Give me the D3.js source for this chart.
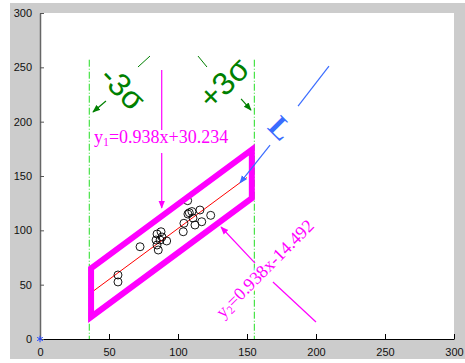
<!DOCTYPE html>
<html>
<head>
<meta charset="utf-8">
<script src="https://cdn.jsdelivr.net/npm/d3@7"></script>
<style>
  body { margin: 0; background: #fff; }
  svg { display: block; }
</style>
</head>
<body>
<div id="chart"></div>
<script>
// tick values
var xTicks = [0, 50, 100, 150, 200, 250, 300];
var yTicks = [0, 50, 100, 150, 200, 250, 300];

// sample points
var ptsX = [56.5, 56.5, 72.5, 84.8, 87.7, 84.1, 87.0, 84.8, 85.7, 91.8, 88.4, 103.8, 104.3, 108.2, 110.1, 107.2, 115.9, 112.3, 117.2, 123.7, 107.0, 110.9];
var ptsY = [58.9, 52.5, 84.9, 96.6, 98.7, 91.1, 91.1, 86.5, 81.9, 90.2, 93.9, 98.7, 106.5, 116.2, 117.3, 115.0, 118.7, 104.9, 107.9, 113.8, 127.3, 111.3];

// fit and bounds
var slope = 0.938;
var upperB = 30.234;
var lowerB = -14.492;
var fitB = 7.871;
var fitRange = [39, 150];
var bandX = [37, 153.5];
var sigmaX = [35.7, 155.3];
var sigmaTop = 257;

function makeChart() {
  var svgWidth = 465;
  var svgHeight = 363;

  var svg = d3.select("#chart")
    .append("svg")
    .attr("width", svgWidth)
    .attr("height", svgHeight);

  var defs = svg.append("defs");
  function arrowHead(id, color) {
    defs.append("marker")
      .attr("id", id)
      .attr("viewBox", "0 0 10 10")
      .attr("refX", 9)
      .attr("refY", 5)
      .attr("markerWidth", 8)
      .attr("markerHeight", 8)
      .attr("markerUnits", "userSpaceOnUse")
      .attr("orient", "auto")
      .append("path")
      .attr("d", "M0,1 L10,5 L0,9 Z")
      .attr("fill", color);
  }
  arrowHead("arG", "#008000");
  arrowHead("arM", "#ff00ff");
  arrowHead("arB", "#3a6cff");

  // grey figure frame
  svg.append("rect")
    .attr("x", 10).attr("y", 3)
    .attr("width", 455).attr("height", 356)
    .attr("fill", "#cccccc");

  var x = d3.scaleLinear().domain([0, 300]).range([40, 454]);
  var y = d3.scaleLinear().domain([0, 300]).range([339, 13]);

  svg.append("rect")
    .attr("x", x(0)).attr("y", y(300))
    .attr("width", x(300) - x(0)).attr("height", y(0) - y(300))
    .attr("fill", "#ffffff");

  var chartGroup = svg.append("g");

  // axes
  var xAxis = d3.axisBottom(x).tickValues(xTicks).tickSizeInner(-5).tickSizeOuter(0).tickPadding(9);
  var yAxis = d3.axisLeft(y).tickValues(yTicks).tickSizeInner(-4).tickSizeOuter(0).tickPadding(8);

  var gx = chartGroup.append("g")
    .attr("transform", `translate(0, ${y(0)})`)
    .call(xAxis);
  var gy = chartGroup.append("g")
    .attr("transform", `translate(${x(0)}, 0)`)
    .call(yAxis);

  gx.select(".domain").attr("stroke", "#000").attr("stroke-width", 1.2);
  gy.select(".domain").attr("stroke", "#666").attr("stroke-width", 1.5);
  gx.selectAll(".tick line").attr("stroke", "#000");
  gy.selectAll(".tick line").attr("stroke", "#555");
  [gx, gy].forEach(function(g) {
    g.selectAll("text")
      .attr("font-family", "Liberation Sans, Arial, sans-serif")
      .attr("font-size", "11px")
      .attr("fill", "#111");
  });

  // sigma lines (dash-dot)
  chartGroup.selectAll(".sig")
    .data(sigmaX)
    .enter()
    .append("line")
    .attr("x1", d => x(d)).attr("x2", d => x(d))
    .attr("y1", y(sigmaTop)).attr("y2", y(0))
    .attr("stroke", "#22dd22")
    .attr("stroke-width", 1)
    .attr("stroke-dasharray", "7,2,1,2");

  // red fit line
  chartGroup.append("line")
    .attr("x1", x(fitRange[0])).attr("y1", y(slope * fitRange[0] + fitB))
    .attr("x2", x(fitRange[1])).attr("y2", y(slope * fitRange[1] + fitB))
    .attr("stroke", "#ff0000")
    .attr("stroke-width", 1);

  // points
  var pts = ptsX.map(function(v, i) { return {x: v, y: ptsY[i]}; });
  chartGroup.selectAll(".pt")
    .data(pts)
    .enter()
    .append("circle")
    .attr("cx", d => x(d.x))
    .attr("cy", d => y(d.y))
    .attr("r", 4)
    .attr("fill", "none")
    .attr("stroke", "#000")
    .attr("stroke-width", 0.9);

  // magenta band
  var band = [
    [bandX[0], slope * bandX[0] + upperB],
    [bandX[1], slope * bandX[1] + upperB],
    [bandX[1], slope * bandX[1] + lowerB],
    [bandX[0], slope * bandX[0] + lowerB]
  ];
  chartGroup.append("path")
    .attr("d", d3.line().x(d => x(d[0])).y(d => y(d[1]))(band) + "Z")
    .attr("fill", "none")
    .attr("stroke", "#ff00ff")
    .attr("stroke-width", 6)
    .attr("stroke-linejoin", "miter");

  // blue star at origin
  chartGroup.append("path")
    .attr("d", d3.symbol(d3.symbolAsterisk, 30)())
    .attr("transform", `translate(${x(0)}, ${y(0)})`)
    .attr("stroke", "#2244ff")
    .attr("fill", "none")
    .attr("stroke-width", 1);

  // annotation leader lines, in data units
  function seg(a, b, color, w, marker) {
    var l = chartGroup.append("line")
      .attr("x1", x(a[0])).attr("y1", y(a[1]))
      .attr("x2", x(b[0])).attr("y2", y(b[1]))
      .attr("stroke", color)
      .attr("stroke-width", w);
    if (marker) l.attr("marker-end", `url(#${marker})`);
  }
  seg([79.7, 260.4], [71.0, 250.3], "#008000", 1);
  seg([47.8, 219.0], [38.4, 208.9], "#008000", 1.2, "arG");
  seg([114.5, 260.4], [121.0, 250.3], "#008000", 1);
  seg([145.7, 220.9], [152.9, 210.7], "#008000", 1.2, "arG");
  seg([209.4, 251.2], [187.0, 214.4], "#3a6cff", 1.2);
  seg([166.7, 178.5], [144.9, 143.6], "#3a6cff", 1.2, "arB");
  seg([88.2, 247.5], [88.2, 192.3], "#ff00ff", 1.2);
  seg([88.2, 171.2], [88.2, 120.5], "#ff00ff", 1.2, "arM");
  seg([155.8, 69.9], [131.2, 103.1], "#ff00ff", 1.2, "arM");
  seg([168.8, 52.5], [200, 15.6], "#ff00ff", 1.2);

  // sigma labels
  function rotText(pos, angle, txt, color, size, family, weight) {
    return chartGroup.append("text")
      .attr("transform", `translate(${x(pos[0])}, ${y(pos[1])}) rotate(${angle})`)
      .attr("text-anchor", "middle")
      .attr("dominant-baseline", "central")
      .attr("font-family", family)
      .attr("font-size", size)
      .attr("font-weight", weight || "normal")
      .attr("fill", color)
      .text(txt);
  }
  rotText([60.1, 230.9], 45, "-3\u03c3", "#008000", "32px", "Liberation Sans, Arial, sans-serif");
  rotText([133.3, 235.6], -45, "+3\u03c3", "#008000", "32px", "Liberation Sans, Arial, sans-serif");
  rotText([174.6, 194.2], 45, "L", "#3a6cff", "30px", "Liberation Serif, Times New Roman, serif", "bold");

  // equations
  var t1 = chartGroup.append("text")
    .attr("x", x(39.1)).attr("y", y(180.4))
    .attr("font-family", "Liberation Serif, Times New Roman, serif")
    .attr("font-size", "18px")
    .attr("fill", "#ff00ff")
    .attr("stroke", "#fff").attr("stroke-width", 4).attr("paint-order", "stroke");
  t1.append("tspan").text("y");
  t1.append("tspan").attr("font-size", "12px").attr("dy", 3).text("1");
  t1.append("tspan").attr("dy", -3).text("=0.938x+30.234");

  var t2 = chartGroup.append("text")
    .attr("transform", `translate(${x(132.6)}, ${y(18.4)}) rotate(-45)`)
    .attr("font-family", "Liberation Serif, Times New Roman, serif")
    .attr("font-size", "18px")
    .attr("fill", "#ff00ff")
    .attr("stroke", "#fff").attr("stroke-width", 4).attr("paint-order", "stroke");
  t2.append("tspan").text("y");
  t2.append("tspan").attr("font-size", "12px").attr("dy", 3).text("2");
  t2.append("tspan").attr("dy", -3).text("=0.938x-14.492");
}

makeChart();
</script>
</body>
</html>
